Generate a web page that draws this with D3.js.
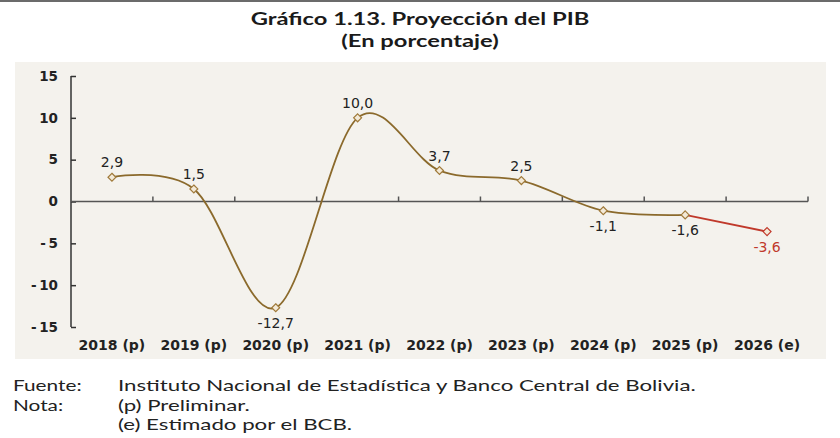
<!DOCTYPE html>
<html>
<head>
<meta charset="utf-8">
<script src="https://cdn.jsdelivr.net/npm/d3@7"></script>
<style>
  body { margin: 0; background: #fff; }
  svg { display: block; }
</style>
</head>
<body>
<svg id="chart" width="840" height="438"></svg>
<script>
// Data
const years = ['2018 (p)', '2019 (p)', '2020 (p)', '2021 (p)', '2022 (p)', '2023 (p)', '2024 (p)', '2025 (p)', '2026 (e)'];
const pib = [2.9, 1.5, -12.7, 10.0, 3.7, 2.5, -1.1, -1.6, -3.6];
const yTicks = [15, 10, 5, 0, -5, -10, -15];
const labelPos = ['above', 'above', 'below', 'above', 'above', 'above', 'below', 'below', 'below'];
const notes = [
  ['Fuente:', 'Instituto Nacional de Estadística y Banco Central de Bolivia.'],
  ['Nota:', '(p) Preliminar.'],
  ['', '(e) Estimado por el BCB.']
];

const brown = '#8b6a2c';
const red = '#c0392b';
const verdana = '"DejaVu Sans", Verdana, sans-serif';
const fmt = v => d3.format('.1f')(v).replace('.', ',').replace('\u2212', '-');

const svg = d3.select('#chart');

// top rule and panel
svg.append('rect').attr('x', 0).attr('y', 0).attr('width', 840).attr('height', 2).attr('fill', '#6b6b6b');
svg.append('rect').attr('x', 15).attr('y', 62).attr('width', 811).attr('height', 297).attr('fill', '#f4f2ed');

// title (source image is stretched horizontally)
[['Gráfico 1.13. Proyección del PIB', 25], ['(En porcentaje)', 47]].forEach(t => {
  svg.append('text').attr('transform', `translate(420,${t[1]}) scale(1.32,1)`).attr('text-anchor', 'middle')
    .attr('font-family', 'Lato, sans-serif').attr('font-weight', 'bold').attr('font-size', 18)
    .attr('fill', '#1a1a1a').text(t[0]);
});

const x = d3.scaleBand().domain(years).range([71, 808]);
const y = d3.scaleLinear().domain([-15, 15]).range([327, 76]);
const cx = d => x(d) + x.bandwidth() / 2;

// y axis
const yAxis = svg.append('g').attr('transform', 'translate(71,0)')
  .call(d3.axisRight(y).tickValues(yTicks).tickSize(5).tickFormat(''));
yAxis.select('.domain').remove();
yAxis.append('line').attr('x1', 0).attr('x2', 0).attr('y1', y(15)).attr('y2', y(-15));
yAxis.selectAll('line').attr('stroke', '#333').attr('stroke-width', 1.5);

svg.append('g').selectAll('text').data(yTicks).join('text')
  .attr('x', 58).attr('y', d => y(d)).attr('dy', '0.35em').attr('text-anchor', 'end')
  .attr('font-family', verdana).attr('font-weight', 'bold').attr('font-size', 13.5)
  .attr('fill', '#222').text(d => d < 0 ? '-\u2009' + Math.abs(d) : d);

// x axis at zero with ticks at band boundaries
const xAxis = svg.append('g').attr('transform', `translate(0,${y(0)})`);
xAxis.append('line').attr('x1', 71).attr('x2', 808).attr('y1', 0).attr('y2', 0)
  .attr('stroke', '#555').attr('stroke-width', 1.5);
xAxis.selectAll('line.tk').data(years).join('line').attr('class', 'tk')
  .attr('x1', d => x(d) + x.bandwidth()).attr('x2', d => x(d) + x.bandwidth())
  .attr('y1', 0).attr('y2', -5).attr('stroke', '#555').attr('stroke-width', 1.5);

// x labels
svg.append('g').selectAll('text').data(years).join('text')
  .attr('x', d => cx(d)).attr('y', 350).attr('text-anchor', 'middle')
  .attr('font-family', verdana).attr('font-weight', 'bold').attr('font-size', 14)
  .attr('fill', '#222').text(d => d);

// lines
const pts = years.map((d, i) => [cx(d), y(pib[i])]);
const smooth = d3.line().curve(d3.curveCardinal.tension(0));
svg.append('path').attr('d', smooth(pts.slice(0, 8)))
  .attr('fill', 'none').attr('stroke', brown).attr('stroke-width', 1.8);
svg.append('path').attr('d', d3.line()(pts.slice(7)))
  .attr('fill', 'none').attr('stroke', red).attr('stroke-width', 1.8);

// markers
const diamond = d3.symbol().type(d3.symbolDiamond2).size(40);
svg.append('g').selectAll('path').data(pts).join('path')
  .attr('d', diamond)
  .attr('transform', d => `translate(${d[0]},${d[1]})`)
  .attr('fill', '#f3ead8').attr('stroke', (d, i) => i === 8 ? red : '#a07a3a').attr('stroke-width', 1.2);

// data labels
svg.append('g').selectAll('text').data(pib).join('text')
  .attr('x', (d, i) => pts[i][0])
  .attr('y', (d, i) => labelPos[i] === 'above' ? pts[i][1] - 10 : pts[i][1] + 20)
  .attr('text-anchor', 'middle')
  .attr('font-family', verdana).attr('font-size', 14)
  .attr('fill', (d, i) => i === 8 ? red : '#222')
  .text(d => fmt(d));

// notes
const nt = svg.append('g').attr('font-family', 'Lato, sans-serif').attr('font-size', 16).attr('fill', '#222');
notes.forEach((n, i) => {
  const yy = 391 + i * 19.5;
  nt.append('text').attr('transform', `translate(13,${yy}) scale(1.3,1)`).text(n[0]);
  nt.append('text').attr('transform', `translate(118,${yy}) scale(1.39,1)`).text(n[1]);
});
</script>
</body>
</html>
